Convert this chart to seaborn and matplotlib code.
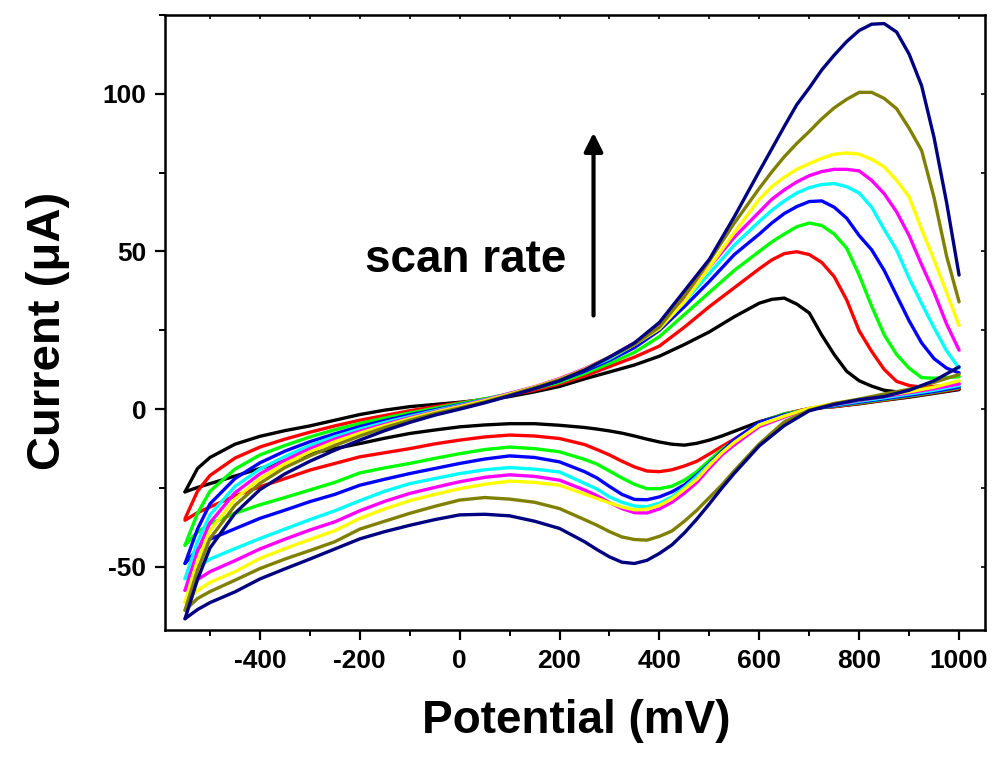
import matplotlib
matplotlib.use("Agg")
import matplotlib.pyplot as plt
from matplotlib.ticker import MultipleLocator
import seaborn as sns
import pandas as pd

# potential grids (mV): anodic sweep and cathodic sweep
potential_fwd = [-550, -525, -500, -450, -400, -350, -300, -250, -200, -150, -100, -50,
                 0, 50, 100, 150, 200, 250, 300, 350, 400, 450, 500, 550, 600,
                 625, 650, 675, 700, 725, 750, 775, 800, 825, 850, 875, 900, 925, 950, 975, 1000]
potential_rev = [-550, -525, -500, -450, -400, -350, -300, -250, -200, -150, -100, -50,
                 0, 50, 100, 150, 200,
                 250, 275, 300, 325, 350, 375, 400, 425, 450, 475, 500, 525, 550,
                 600, 650, 700, 750, 800, 850, 900, 950, 1000]

# scan order (slowest -> fastest) and their colours
scan_names = ["scan 1", "scan 2", "scan 3", "scan 4", "scan 5",
              "scan 6", "scan 7", "scan 8", "scan 9"]
scan_colors = ["#000000", "#FF0000", "#00FF00", "#0000FF", "#00FFFF",
               "#FF00FF", "#FFFF00", "#808000", "#000080"]

# anodic (forward) branches, current in uA
fwd_1 = [-26.2, -18.8, -15.3, -11.1, -8.6, -6.8, -5.3, -3.5, -1.7, -0.3, 0.8, 1.5,
         2.2, 3.0, 4.0, 5.5, 7.2, 9.6, 11.8, 14.0, 16.8, 20.5, 24.5, 29.3, 33.6,
         34.8, 35.2, 33.3, 30.5, 23.5, 17.3, 12.0, 9.0, 7.3, 6.0, 5.5, 5.6, 5.8, 6.0, 6.2, 6.5]
fwd_2 = [-34.7, -26.0, -21.0, -15.5, -12.0, -9.5, -7.3, -5.3, -3.5, -2.0, -0.5, 0.8,
         2.0, 3.2, 4.5, 6.0, 8.0, 10.5, 13.5, 16.5, 20.0, 26.0, 32.5, 38.5, 44.5,
         47.3, 49.3, 49.9, 49.0, 46.5, 42.0, 34.6, 24.8, 18.3, 12.6, 8.8, 7.5, 7.0, 7.2, 7.5, 8.0]
fwd_3 = [-43.1, -33.0, -26.0, -19.0, -14.5, -11.5, -8.8, -6.5, -4.5, -2.8, -1.2, 0.3,
         1.8, 3.3, 4.8, 6.5, 8.5, 11.3, 14.5, 18.0, 23.0, 30.0, 37.0, 44.0, 50.0,
         53.0, 55.5, 57.8, 59.0, 58.2, 55.5, 51.0, 42.5, 32.6, 23.6, 17.3, 13.0, 10.0, 9.8, 10.0, 10.3]
fwd_4 = [-48.9, -38.0, -30.0, -22.0, -17.0, -13.3, -10.3, -7.8, -5.5, -3.6, -1.8, -0.2,
         1.4, 3.0, 4.8, 6.7, 9.0, 12.0, 15.5, 19.5, 25.0, 32.5, 40.5, 49.0, 55.5,
         59.0, 62.0, 64.2, 65.8, 66.0, 64.0, 60.5, 55.0, 50.5, 44.0, 36.0, 28.0, 21.0, 16.0, 13.0, 11.5]
fwd_5 = [-53.7, -42.0, -33.5, -24.5, -19.0, -15.0, -11.5, -8.7, -6.3, -4.2, -2.3, -0.5,
         1.2, 3.0, 5.0, 7.0, 9.5, 12.5, 16.0, 20.5, 26.0, 34.0, 43.0, 52.0, 59.5,
         63.0, 66.0, 68.5, 70.2, 71.2, 71.5, 70.5, 68.5, 64.0, 57.0, 50.4, 41.5, 33.5, 25.8, 18.5, 13.0]
fwd_6 = [-57.4, -45.0, -36.0, -26.5, -20.5, -16.2, -12.5, -9.5, -7.0, -4.8, -2.7, -0.8,
         1.0, 2.9, 5.0, 7.1, 9.7, 12.8, 16.5, 21.0, 26.5, 35.0, 45.0, 54.5, 62.5,
         66.5, 69.5, 72.0, 74.0, 75.3, 76.0, 76.0, 75.5, 72.5, 68.3, 62.5, 55.0, 45.8, 37.0, 27.0, 18.7]
fwd_7 = [-61.1, -48.0, -38.5, -28.5, -22.0, -17.3, -13.5, -10.3, -7.6, -5.2, -3.0, -1.0,
         0.8, 2.7, 4.8, 7.0, 9.5, 12.6, 16.5, 20.5, 25.5, 34.0, 45.0, 56.0, 66.5,
         70.5, 73.5, 76.0, 77.8, 79.5, 80.8, 81.2, 80.8, 79.2, 76.8, 72.5, 67.3, 57.0, 47.3, 37.0, 26.5]
fwd_8 = [-63.7, -51.0, -41.0, -30.5, -23.5, -18.5, -14.8, -11.5, -8.5, -5.8, -3.5, -1.4,
         0.4, 2.3, 4.5, 6.8, 9.3, 12.5, 16.5, 20.5, 26.0, 36.0, 47.0, 59.0, 70.0,
         75.2, 80.0, 84.2, 88.0, 92.0, 95.5, 98.2, 100.4, 100.4, 98.5, 95.2, 89.0, 82.0, 67.0, 48.5, 34.0]
fwd_9 = [-66.4, -54.0, -44.0, -33.0, -25.5, -20.5, -16.5, -13.0, -9.8, -6.8, -4.2, -1.9,
         0.0, 2.0, 4.2, 6.5, 9.0, 12.3, 16.5, 21.0, 27.5, 37.5, 47.5, 61.0, 75.4,
         82.5, 89.6, 96.5, 101.8, 107.5, 112.2, 116.5, 120.0, 122.0, 122.2, 119.5, 112.5, 102.5, 86.0, 65.5, 42.5]

# cathodic (reverse) branches on potential_rev
rev_1 = [-26.2, -24.8, -23.6, -21.2, -18.8, -16.4, -14.1, -12.5, -10.9, -9.2, -7.7, -6.6,
         -5.6, -5.0, -4.6, -4.6, -5.1,
         -5.8, -6.3, -6.9, -7.6, -8.5, -9.5, -10.4, -11.1, -11.4, -10.8, -9.8, -8.5, -7.0,
         -4.0, -1.6, 0.2, 0.8, 1.7, 2.8, 3.8, 5.0, 6.2]
rev_2 = [-35.2, -32.8, -31.0, -27.5, -24.6, -22.0, -19.3, -17.2, -15.1, -13.8, -12.5, -11.0,
         -9.8, -8.8, -8.2, -8.5, -9.3,
         -11.2, -12.8, -14.5, -16.5, -18.3, -19.6, -19.8, -19.2, -18.0, -16.5, -14.2, -11.8, -9.5,
         -4.5, -1.5, 0.2, 0.8, 1.8, 2.9, 4.0, 5.2, 6.5]
rev_3 = [-43.1, -39.0, -36.3, -33.0, -30.3, -28.0, -25.6, -23.2, -20.2, -18.6, -17.2, -15.6,
         -14.1, -12.8, -12.0, -12.5, -13.5,
         -15.9, -17.4, -19.6, -21.8, -23.8, -25.2, -25.2, -24.4, -22.5, -19.8, -16.2, -12.8, -9.9,
         -4.3, -1.5, 0.0, 1.0, 2.0, 3.1, 4.2, 5.4, 6.8]
rev_4 = [-48.9, -44.3, -41.2, -37.9, -34.6, -32.0, -29.3, -27.0, -24.1, -22.2, -20.4, -18.8,
         -17.2, -15.8, -14.8, -15.3, -16.7,
         -19.8, -21.8, -24.5, -27.0, -28.6, -28.7, -27.8, -26.2, -24.0, -20.8, -17.2, -13.4, -9.6,
         -4.2, -1.8, 0.0, 1.1, 2.2, 3.3, 4.4, 5.6, 7.0]
rev_5 = [-53.7, -50.0, -47.5, -44.2, -41.0, -38.0, -35.0, -32.2, -29.0, -26.0, -23.6, -22.0,
         -20.4, -19.2, -18.5, -19.0, -19.9,
         -23.5, -25.3, -27.8, -29.5, -30.7, -30.9, -29.8, -27.8, -24.8, -21.3, -17.5, -14.0, -10.8,
         -5.0, -2.2, 0.1, 1.3, 2.5, 3.6, 4.8, 6.0, 7.5]
rev_6 = [-57.4, -54.0, -51.5, -48.0, -44.3, -41.2, -38.3, -35.7, -32.2, -29.2, -26.7, -24.8,
         -23.0, -21.6, -20.8, -21.3, -22.5,
         -25.6, -27.4, -29.6, -31.5, -32.8, -32.9, -31.6, -29.5, -26.6, -23.2, -18.7, -14.5, -11.3,
         -5.5, -2.5, 0.2, 1.5, 2.8, 4.0, 5.2, 6.5, 8.0]
rev_7 = [-61.1, -57.5, -54.9, -51.5, -47.3, -44.2, -41.3, -38.5, -34.6, -31.6, -29.0, -27.0,
         -25.2, -23.8, -22.8, -23.2, -24.1,
         -26.9, -28.3, -29.7, -31.0, -31.9, -31.7, -30.5, -28.4, -25.4, -22.2, -17.8, -13.8, -10.5,
         -5.0, -2.2, 0.3, 1.8, 3.0, 4.3, 5.5, 7.0, 9.0]
rev_8 = [-63.7, -60.0, -57.8, -54.2, -50.5, -47.5, -44.8, -42.0, -38.0, -35.5, -33.0, -30.8,
         -28.8, -28.0, -28.5, -29.5, -31.5,
         -35.0, -36.8, -38.8, -40.5, -41.3, -41.5, -40.3, -38.6, -35.5, -32.0, -28.0, -24.0, -19.5,
         -11.0, -4.0, -0.3, 1.8, 3.2, 4.8, 6.3, 8.5, 11.0]
rev_9 = [-66.4, -63.5, -61.3, -57.9, -53.8, -50.6, -47.5, -44.3, -41.1, -38.8, -36.8, -35.0,
         -33.5, -33.3, -33.8, -35.5, -37.8,
         -42.0, -44.5, -46.8, -48.5, -48.9, -47.9, -45.7, -43.0, -39.2, -34.8, -30.0, -25.0, -20.3,
         -11.6, -5.2, -0.5, 1.5, 3.0, 4.0, 6.0, 9.0, 13.4]

forward_branches = [fwd_1, fwd_2, fwd_3, fwd_4, fwd_5, fwd_6, fwd_7, fwd_8, fwd_9]
reverse_branches = [rev_1, rev_2, rev_3, rev_4, rev_5, rev_6, rev_7, rev_8, rev_9]

# long-form table for seaborn
rows = {"potential": [], "current": [], "scan": [], "branch": []}
for name, fwd, rev in zip(scan_names, forward_branches, reverse_branches):
    for branch, grid, values in (("forward", potential_fwd, fwd),
                                 ("reverse", potential_rev, rev)):
        for e, i in zip(grid, values):
            rows["potential"].append(e)
            rows["current"].append(i)
            rows["scan"].append(name)
            rows["branch"].append(branch)
df = pd.DataFrame(rows)

sns.set_style("ticks")
plt.rcParams["font.family"] = ["Liberation Sans", "DejaVu Sans"]
plt.rcParams["font.weight"] = "bold"
plt.rcParams.update({"text.color": "black", "axes.labelcolor": "black",
                     "xtick.color": "black", "ytick.color": "black",
                     "axes.unicode_minus": False})

fig = plt.figure(figsize=(9.96, 7.75), dpi=100)
ax = fig.add_axes([0.1657, 0.187, 0.8233, 0.794])

sns.lineplot(data=df, x="potential", y="current", hue="scan", hue_order=scan_names,
             units="branch", estimator=None, sort=False,
             palette=scan_colors, linewidth=2.4, legend=False, ax=ax)

ax.set_xlim(-590, 1052)
ax.set_ylim(-70, 125)

ax.set_xticks([-400, -200, 0, 200, 400, 600, 800, 1000])
ax.set_yticks([-50, 0, 50, 100])
ax.xaxis.set_minor_locator(MultipleLocator(100))
ax.yaxis.set_minor_locator(MultipleLocator(25))
ax.tick_params(which="major", direction="out", length=7.5, width=1.6,
               labelsize=19, pad=6)
ax.tick_params(which="minor", direction="out", length=4, width=1.4)
for lab in ax.get_xticklabels() + ax.get_yticklabels():
    lab.set_fontweight("bold")

for sp in ax.spines.values():
    sp.set_visible(True)
    sp.set_linewidth(1.8)
    sp.set_color("black")

# small inward ticks on the top and right frame
top = ax.secondary_xaxis("top")
top.set_xticks([-500, -400, -300, -200, -100, 0, 100, 200, 300, 400, 500, 600, 700, 800, 900, 1000])
top.tick_params(direction="in", length=3, width=1.2, labeltop=False)
right = ax.secondary_yaxis("right")
right.set_yticks([-50, -25, 0, 25, 50, 75, 100])
right.tick_params(direction="in", length=3, width=1.2, labelright=False)

ax.set_xlabel("Potential (mV)", fontsize=33, fontweight="bold")
ax.set_ylabel("Current (\u03bcA)", fontsize=34, fontweight="bold")
ax.xaxis.set_label_coords(0.502, -0.112)
ax.yaxis.set_label_coords(-0.116, 0.486)

# scan-rate arrow and note
ax.annotate("", xy=(268, 88.5), xytext=(268, 28.8),
            arrowprops=dict(arrowstyle="-|>", lw=3, color="black", mutation_scale=28))
ax.text(13, 43.4, "scan rate", fontsize=33, fontweight="bold",
        ha="center", va="baseline")

fig.savefig("out.png", dpi=100)
